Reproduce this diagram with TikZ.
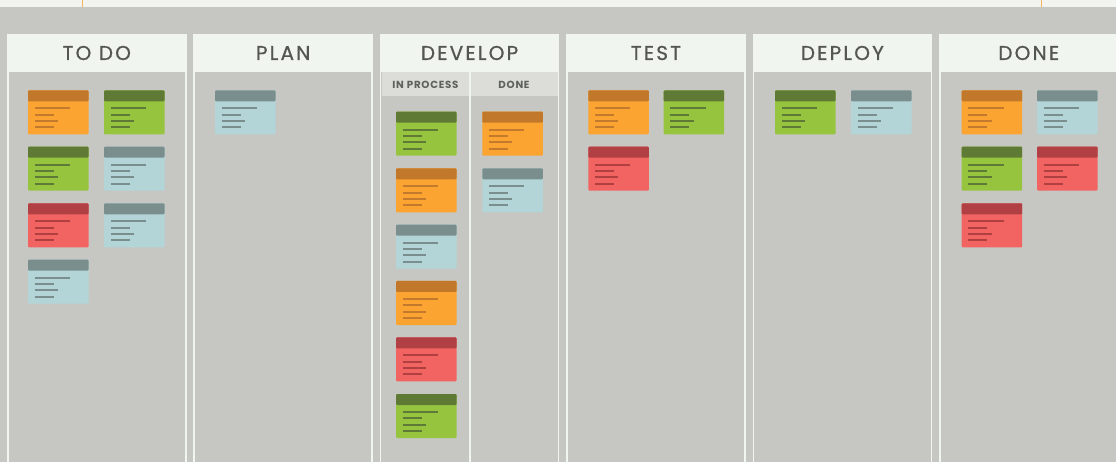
\documentclass[tikz,border=0pt]{standalone}
\usepackage{fontspec}
\newfontfamily\headfont[LetterSpace=11, FakeBold=0.8]{Poppins}
\newfontfamily\subfont[LetterSpace=7]{Poppins}
\usetikzlibrary{positioning}

\definecolor{boardbg}{HTML}{C6C7C2}
\definecolor{topstrip}{HTML}{F2F5EF}
\definecolor{topmark}{HTML}{F4B55E}
\definecolor{colframe}{HTML}{F1F5EF}
\definecolor{subhead}{HTML}{DCDDD8}
\definecolor{headtext}{HTML}{535750}
\definecolor{subtext}{HTML}{5E625B}
% card colours: body, header bar, text lines
\definecolor{orangebody}{HTML}{FCA432}
\definecolor{orangehead}{HTML}{C1782A}
\definecolor{orangeline}{HTML}{C47A2C}
\definecolor{greenbody}{HTML}{97C43F}
\definecolor{greenhead}{HTML}{5F7A35}
\definecolor{greenline}{HTML}{5E7A36}
\definecolor{bluebody}{HTML}{B3D5D8}
\definecolor{bluehead}{HTML}{7A8E8E}
\definecolor{blueline}{HTML}{7A8E8E}
\definecolor{redbody}{HTML}{F26462}
\definecolor{redhead}{HTML}{B04043}
\definecolor{redline}{HTML}{B0403F}

\tikzset{
  pics/card/.style={code={
    \fill[#1body, rounded corners=1pt] (0,0) rectangle (60.5,44);
    \fill[#1head, rounded corners=1pt] (0,0) rectangle (60.5,11);
    \draw[#1line, line width=2pt] (6.7,18) -- ++(35.3,0)
      (6.7,24.3) -- ++(19,0) (6.7,30.7) -- ++(23.3,0) (6.7,37) -- ++(19,0);
  }}
}

\begin{document}
\begin{tikzpicture}[
    x=1pt, y=-1pt,
    colhead/.style={text=headtext, font=\headfont\fontsize{20}{20}\selectfont, inner sep=0pt},
    sublabel/.style={text=subtext, font=\subfont\bfseries\fontsize{10.3}{10.3}\selectfont, inner sep=0pt}
]
\useasboundingbox (0,0) rectangle (1116,462);

% ============ BOARD ============
\fill[boardbg] (0,0) rectangle (1116,462);
\fill[topstrip] (0,0) rectangle (1116,7);
\draw[topmark, line width=1.8pt] (82.5,0) -- (82.5,7) (1041.5,0) -- (1041.5,7);

% ============ COLUMNS ============
\foreach \i/\name/\lbl in {0/todo/TO DO, 1/plan/PLAN, 2/develop/DEVELOP,
                           3/test/TEST, 4/deploy/DEPLOY, 5/done/DONE} {
  \pgfmathsetmacro{\cx}{7+186.4*\i}
  \fill[colframe] (\cx,34) rectangle ++(179.5,440);
  \fill[boardbg] (\cx+1.5,72) rectangle ++(176.5,400);
  \node[colhead] (\name) at (\cx+89.75,53) {\lbl};
}

% DEVELOP sub-columns
\fill[subhead] (381.5,72) rectangle (558,96);
\draw[colframe, line width=1.5pt] (470,72) -- (470,462);
\node[sublabel] (inprocess) at (425.5,84.5) {IN PROCESS};
\node[sublabel] (devdone) at (514,84.5) {DONE};

% ============ CARDS ============
% TO DO
\pic at (28,90.3) {card=orange};
\pic at (104,90.3) {card=green};
\pic at (28,146.7) {card=green};
\pic at (104,146.7) {card=blue};
\pic at (28,203.3) {card=red};
\pic at (104,203.3) {card=blue};
\pic at (28,259.7) {card=blue};

% PLAN
\pic at (215,90.3) {card=blue};

% DEVELOP
\foreach \y/\c in {111.7/green, 168.3/orange, 224.7/blue, 281/orange, 337.3/red, 394/green}
  \pic at (396,\y) {card=\c};
\pic at (482.3,111.7) {card=orange};
\pic at (482.3,168.3) {card=blue};

% TEST
\pic at (588.3,90.3) {card=orange};
\pic at (663.7,90.3) {card=green};
\pic at (588.3,146.7) {card=red};

% DEPLOY
\pic at (775,90.3) {card=green};
\pic at (851,90.3) {card=blue};

% DONE
\pic at (961.7,90.3) {card=orange};
\pic at (1037,90.3) {card=blue};
\pic at (961.7,146.7) {card=green};
\pic at (1037,146.7) {card=red};
\pic at (961.7,203.3) {card=red};

\end{tikzpicture}
\end{document}
